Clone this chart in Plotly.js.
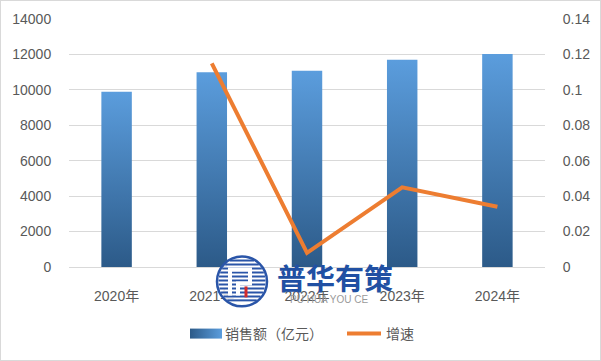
<!DOCTYPE html>
<html>
<head>
<meta charset="utf-8">
<script src="https://cdn.plot.ly/plotly-3.0.1.min.js"></script>
<style>
html,body{margin:0;padding:0;background:#fff;}
#wrap{width:601px;height:361px;box-sizing:border-box;border:1px solid #d9d9d9;position:relative;overflow:hidden;}
#chart{position:absolute;left:-1px;top:-1px;width:601px;height:361px;}
</style>
</head>
<body>
<div id="wrap"><div id="chart"></div></div>
<script>
const categories = ['2020年','2021年','2022年','2023年','2024年'];
const sales = [9900, 11000, 11080, 11700, 12030];
const growthYears = ['2021年','2022年','2023年','2024年'];
const growth = [0.115, 0.008, 0.045, 0.034];
const seriesNames = ['销售额（亿元）','增速'];

const FONT = 'Liberation Sans, Noto Sans CJK SC, sans-serif';
const GREY = '#595959';

const traces = [
  {type:'bar', x:categories, y:sales, name:seriesNames[0], yaxis:'y',
   marker:{color:'#4a86c5'}, width:0.32, hoverinfo:'none'},
  {type:'scatter', mode:'lines', x:growthYears, y:growth, name:seriesNames[1], yaxis:'y2',
   line:{color:'#ed7d31', width:4}, hoverinfo:'none'}
];

// plot-area pixel helpers for decorative watermark
const PL = 69, PW = 476, PB = 268, PH = 249;
const px = v => (v - PL) / PW;
const py = v => (PB - v) / PH;

const shapes = [];
const cx = 242, cy = 282.5, r = 25;
shapes.push({type:'circle', xref:'paper', yref:'paper', layer:'above',
  x0:px(cx-r), x1:px(cx+r), y0:py(cy+r), y1:py(cy-r),
  fillcolor:'rgba(255,255,255,0.85)', line:{color:'#2a55a8', width:2.5}});
for (let dy = -r + 4; dy <= r - 4; dy += 4) {
  const hw = Math.sqrt(r*r - dy*dy) - 1.5;
  shapes.push({type:'line', xref:'paper', yref:'paper', layer:'above',
    x0:px(cx-hw), x1:px(cx+hw), y0:py(cy+dy), y1:py(cy+dy),
    line:{color:'#2a55a8', width:2}});
}
shapes.push({type:'path', xref:'paper', yref:'paper', layer:'above',
  path:'M'+px(cx-12)+','+py(cy+14)+' L'+px(cx-12)+','+py(cy-12)+' L'+px(cx+8)+','+py(cy-12)+' L'+px(cx+8)+','+py(cy+2)+' L'+px(cx-4)+','+py(cy+2)+' L'+px(cx-4)+','+py(cy+14),
  fillcolor:'rgba(0,0,0,0)', line:{color:'#ffffff', width:4}});
shapes.push({type:'line', xref:'paper', yref:'paper', layer:'above',
  x0:px(cx+4), x1:px(cx+4), y0:py(cy+5), y1:py(cy+16), line:{color:'#d42a2a', width:3}});

const layout = {
  width:601, height:361,
  margin:{l:69, r:56, t:19, b:93},
  paper_bgcolor:'rgba(0,0,0,0)', plot_bgcolor:'rgba(0,0,0,0)',
  font:{family:FONT, size:14, color:GREY},
  showlegend:true,
  legend:{orientation:'h', x:px(181), xanchor:'left', y:-0.265, yanchor:'middle',
          font:{family:FONT, size:14, color:GREY}, itemwidth:34, entrywidth:112,
          traceorder:'normal'},
  xaxis:{type:'category', showgrid:false, zeroline:false, showline:false,
         ticks:'outside', ticklen:16, tickcolor:'rgba(0,0,0,0)',
         tickfont:{family:FONT, size:14, color:GREY}},
  yaxis:{range:[0,14000], dtick:2000, tickformat:'d', showgrid:true, gridcolor:'#d9d9d9', gridwidth:1,
         zeroline:true, zerolinecolor:'#d9d9d9', zerolinewidth:1, showline:false,
         ticks:'outside', ticklen:14, tickcolor:'rgba(0,0,0,0)',
         tickfont:{family:FONT, size:14, color:GREY}},
  yaxis2:{range:[0,0.14], dtick:0.02, overlaying:'y', side:'right', showgrid:false, zeroline:false,
          showline:false, ticks:'outside', ticklen:14, tickcolor:'rgba(0,0,0,0)',
          tickfont:{family:FONT, size:14, color:GREY}},
  shapes: shapes,
  annotations:[
    {text:'<b>普华有策</b>', xref:'paper', yref:'paper', x:px(335), y:py(278),
     xanchor:'center', yanchor:'middle', showarrow:false,
     font:{family:'Noto Sans CJK SC, sans-serif', size:29, color:'#2150a3'}},
    {text:'PU HUA YOU CE', xref:'paper', yref:'paper', x:px(329), y:py(301),
     xanchor:'center', yanchor:'middle', showarrow:false,
     font:{family:FONT, size:10, color:'#9a9a9a'}}
  ]
};

function decorate(gd){
  const svg = gd.querySelector('.main-svg');
  const ns = 'http://www.w3.org/2000/svg';
  let defs = svg.querySelector('defs');
  if(!defs){defs = document.createElementNS(ns,'defs'); svg.insertBefore(defs, svg.firstChild);}
  function grad(id, x1, y1, x2, y2, c1, c2){
    if (document.getElementById(id)) return;
    const g = document.createElementNS(ns,'linearGradient');
    g.setAttribute('id', id); g.setAttribute('x1',x1); g.setAttribute('y1',y1);
    g.setAttribute('x2', x2); g.setAttribute('y2', y2);
    const s1 = document.createElementNS(ns,'stop'); s1.setAttribute('offset','0'); s1.setAttribute('stop-color', c1);
    const s2 = document.createElementNS(ns,'stop'); s2.setAttribute('offset','1'); s2.setAttribute('stop-color', c2);
    g.appendChild(s1); g.appendChild(s2); defs.appendChild(g);
  }
  grad('barGrad','0','0','0','1','#5b9ddd','#2c5a88');
  grad('legGrad','0','0','1','0','#2c5a88','#5b9ddd');
  gd.querySelectorAll('.barlayer path').forEach(function(p){ p.style.fill = 'url(#barGrad)'; });
  const items = gd.querySelectorAll('.legend .traces');
  if (items.length) {
    items[0].querySelectorAll('.legendpoints path').forEach(function(p){
      p.setAttribute('d','M-13,5H19V-5H-13Z');
      p.style.fill = 'url(#legGrad)';
      p.style.stroke = 'none';
    });
  }
}

Plotly.newPlot('chart', traces, layout, {staticPlot:true, displayModeBar:false}).then(function(gd){
  decorate(gd);
  setTimeout(function(){ decorate(gd); }, 50);
});
</script>
</body>
</html>
